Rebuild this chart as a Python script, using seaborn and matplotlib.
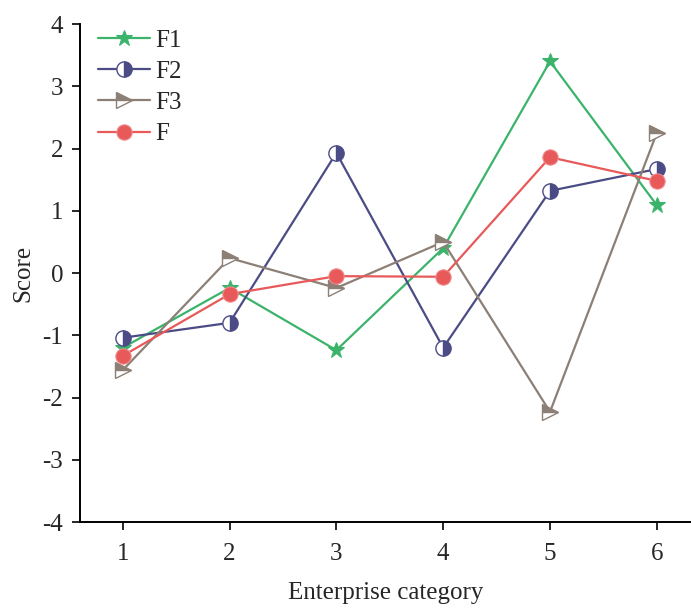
import matplotlib
matplotlib.use("Agg")
import matplotlib.pyplot as plt
import seaborn as sns
import numpy as np

# data
categories = [1, 2, 3, 4, 5, 6]
f1 = [-1.20, -0.24, -1.24, 0.40, 3.40, 1.09]
f2 = [-1.04, -0.80, 1.93, -1.20, 1.32, 1.67]
f3 = [-1.56, 0.24, -0.24, 0.50, -2.23, 2.25]
f = [-1.33, -0.34, -0.05, -0.06, 1.86, 1.48]

sns.set_style("ticks")
plt.rcParams['font.family'] = ['Liberation Serif', 'DejaVu Serif']
plt.rcParams['axes.unicode_minus'] = False

fig = plt.figure(figsize=(6.91, 6.08), dpi=100)
ax = fig.add_axes([0.1158, 0.1414, 0.8842, 0.8191])

sns.lineplot(x=categories, y=f1, ax=ax, color="#3bb36b", marker="*",
             markersize=12, markeredgecolor="#3bb36b", linewidth=1.6, label="F1")
sns.lineplot(x=categories, y=f2, ax=ax, color="#4b4c86", marker="o",
             markersize=11, fillstyle="right", markerfacecoloralt="white",
             markeredgecolor="#4b4c86", markeredgewidth=1.0, linewidth=1.6, label="F2")
sns.lineplot(x=categories, y=f3, ax=ax, color="#8c7f76", marker=">",
             markersize=12, fillstyle="top", markerfacecoloralt="white",
             markeredgecolor="#8c7f76", markeredgewidth=1.0, linewidth=1.6, label="F3")
sns.lineplot(x=categories, y=f, ax=ax, color="#e8595a", marker="o",
             markersize=11, markeredgecolor="#f08a8a", markeredgewidth=0.8,
             linewidth=1.6, label="F")

ax.set_xlim(0.6, 6.32)
ax.set_ylim(-4, 4)
ax.set_xticks(categories)
ax.set_yticks(np.arange(-4, 5, 1))
ax.set_xlabel("Enterprise category", fontsize=18, labelpad=12)
ax.set_ylabel("Score", fontsize=18, labelpad=6)
ax.tick_params(axis="both", labelsize=18, length=6, width=1.4, direction="out")
ax.tick_params(axis="x", pad=9)
ax.tick_params(axis="y", pad=6)
for s in ["top", "right"]:
    ax.spines[s].set_visible(False)
for s in ["left", "bottom"]:
    ax.spines[s].set_linewidth(1.4)
    ax.spines[s].set_color("black")

ax.legend(loc="upper left", frameon=False, fontsize=18, handlelength=2.1,
          handletextpad=0.2, labelspacing=0.35, borderaxespad=0.3,
          bbox_to_anchor=(0.0, 1.025))

fig.savefig("out.png", dpi=100)
